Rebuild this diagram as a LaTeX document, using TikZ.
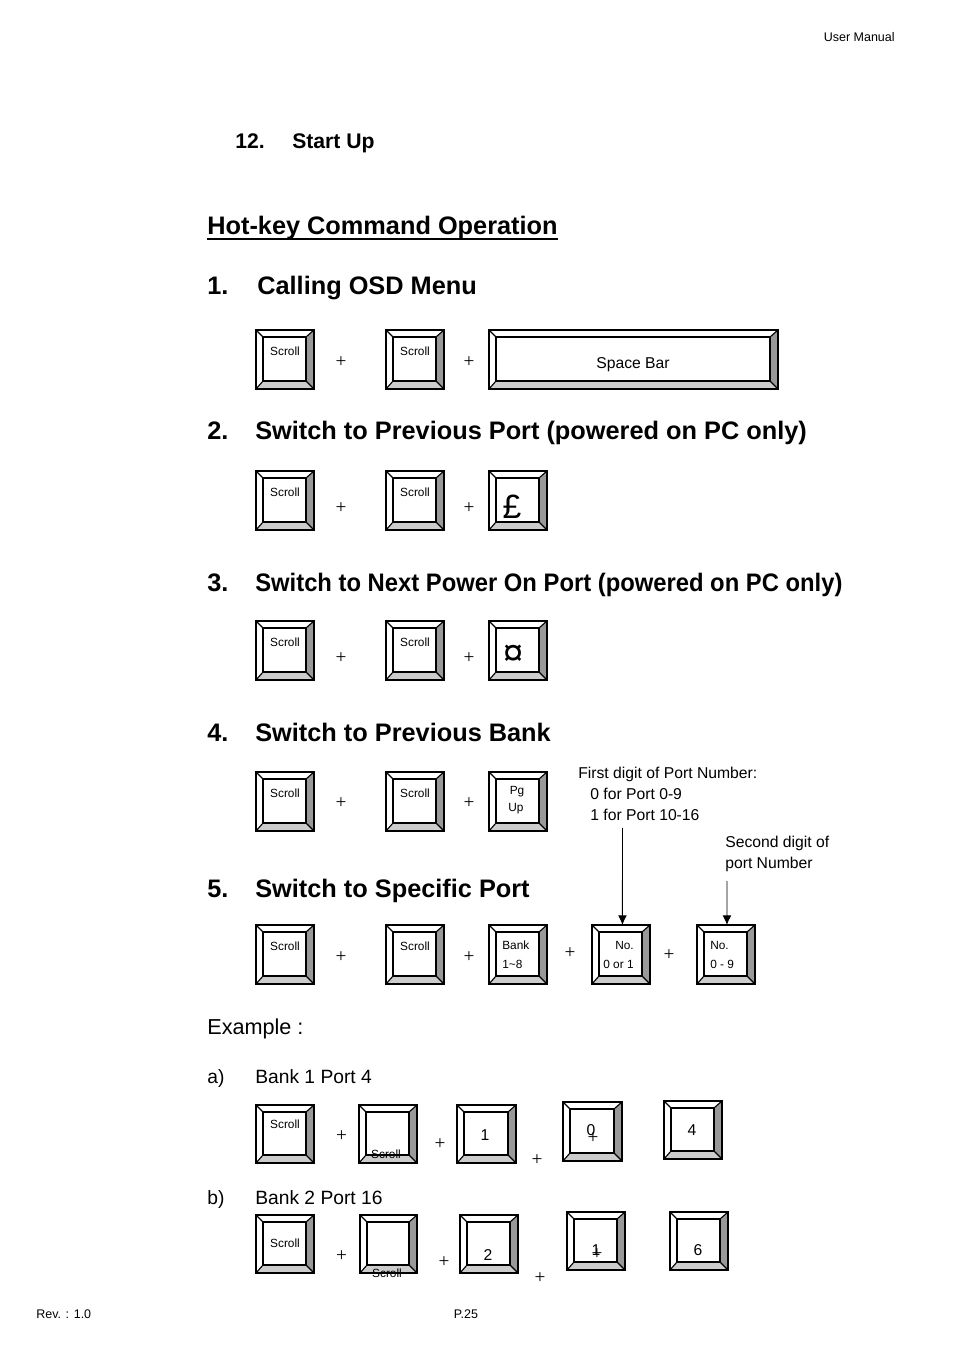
\documentclass[tikz,border=0pt]{standalone}
\usepackage{fontspec}
\usepackage{graphicx}
\setmainfont{Liberation Sans}
\newfontfamily\plusfont{Liberation Serif}
\usetikzlibrary{arrows.meta}

% key cap: name, left, top, right, bottom (page pixels, y downwards)
\newcommand{\keycap}[5]{%
  \fill[keyshade] ({#4},{#3}) -- ({#4},{#5}) -- ({#4-8},{#5-8}) -- ({#4-8},{#3+7}) -- cycle;
  \fill[keylight] ({#2},{#5}) -- ({#4},{#5}) -- ({#4-8},{#5-8}) -- ({#2+7},{#5-8}) -- cycle;
  \draw[keyline] ({#2},{#3}) rectangle ({#4},{#5});
  \draw[keyline] ({#2+7},{#3+7}) rectangle ({#4-8},{#5-8});
  \draw[keyline] ({#2},{#3}) -- ({#2+7},{#3+7}) ({#4},{#3}) -- ({#4-8},{#3+7})
                 ({#2},{#5}) -- ({#2+7},{#5-8}) ({#4},{#5}) -- ({#4-8},{#5-8});
  \coordinate (#1) at ({(#2+#4)/2},{#3});
}

\tikzset{
  keyshade/.style={fill=black!40},
  keylight/.style={fill=black!20},
  keyline/.style={line width=0.7pt},
  keytext/.style={font=\fontsize{7.4}{8}\selectfont, inner sep=0},
  digit/.style={font=\fontsize{9.8}{11}\selectfont, inner sep=0},
  plus/.style={font=\plusfont\fontsize{12}{12}\selectfont, inner sep=0},
  heading/.style={font=\bfseries\fontsize{15.8}{18}\selectfont, anchor=base west, inner sep=0},
  body/.style={font=\fontsize{12}{14}\selectfont, anchor=base west, inner sep=0},
  note/.style={font=\fontsize{9.8}{12}\selectfont, anchor=base west, inner sep=0},
  small/.style={font=\fontsize{7.8}{9}\selectfont, inner sep=0},
}

\begin{document}
\begin{tikzpicture}[x=0.624pt, y=-0.624pt, >={Latex[length=6pt,width=5.5pt]}]

  \fill[white] (0,0) rectangle (954,1351);
  \useasboundingbox (0,0) rectangle (954,1351);

  % page header and footer
  \node[small, anchor=base east] (hdr) at (895,41.5) {User Manual};
  \node[small, anchor=base west] (rev) at (36,1318.5) {Rev. : 1.0};
  \node[small, anchor=base] (page) at (466,1318.5) {P.25};

  % headings
  \node[heading, font=\bfseries\fontsize{13.2}{15}\selectfont] (secnum) at (235,148.5) {12.};
  \node[heading, font=\bfseries\fontsize{13.2}{15}\selectfont] (sec) at (292,148.5) {Start Up};
  \node[heading] (hot) at (207,235) {Hot-key Command Operation};
  \draw[line width=1.1pt] ([yshift=-2.6pt]hot.base west) -- ([yshift=-2.6pt]hot.base east);

  \node[heading] (n1) at (207,295) {1.};
  \node[heading] (h1) at (257,295) {Calling OSD Menu};
  \node[heading] (n2) at (207,439) {2.};
  \node[heading] (h2) at (255,439) {Switch to Previous Port (powered on PC only)};
  \node[heading] (n3) at (207,591) {3.};
  \node[heading] (h3) at (255,591) {\scalebox{0.94}[1]{Switch to Next Power On Port (powered on PC only)}};
  \node[heading] (n4) at (207,741) {4.};
  \node[heading] (h4) at (255,741) {Switch to Previous Bank};
  \node[heading] (n5) at (207,897) {5.};
  \node[heading] (h5) at (255,897) {Switch to Specific Port};

  % the two scroll keys of every hot-key
  \foreach \t/\p in {330/362, 471/508, 621/658, 772/803, 925/957} {
    \keycap{sa\t}{256}{\t}{314}{\t+59}
    \keycap{sb\t}{386}{\t}{444}{\t+59}
    \node[keytext] (sla\t) at (285,\t+21) {Scroll};
    \node[keytext] (slb\t) at (415,\t+21) {Scroll};
    \node[plus] (pa\t) at (341,\p) {+};
    \node[plus] (pb\t) at (469,\p) {+};
  }

  % third keys
  \keycap{space}{489}{330}{778}{389}
  \node[digit] (spacet) at (633,365) {Space Bar};
  \keycap{pound}{489}{471}{547}{530}
  \node[font=\fontsize{21}{21}\selectfont, inner sep=0] (poundt) at (512,506.5) {£};
  \keycap{curr}{489}{621}{547}{680}
  \node[font=\fontsize{23}{23}\selectfont, inner sep=0] (currt) at (513,655) {¤};
  \keycap{pgup}{489}{772}{547}{831}
  \node[keytext] (pg) at (517,792) {Pg};
  \node[keytext] (up) at (516,809) {Up};

  % specific port
  \keycap{bank}{489}{925}{547}{984}
  \node[keytext, anchor=west] (bankt) at (502,945) {Bank};
  \node[keytext, anchor=west] (bankn) at (502,964) {1\textasciitilde 8};
  \node[plus] (pc) at (570,953) {+};
  \keycap{noA}{592}{925}{650}{984}
  \node[keytext, anchor=west] (noAt) at (615,945) {No.};
  \node[keytext, anchor=west] (noAn) at (603,964) {0 or 1};
  \node[plus] (pd) at (669,955) {+};
  \keycap{noB}{697}{925}{755}{984}
  \node[keytext, anchor=west] (noBt) at (710,945) {No.};
  \node[keytext, anchor=west] (noBn) at (710,964) {0 - 9};

  % notes with arrows
  \node[note] (firstA) at (578,778.5) {First digit of Port Number:};
  \node[note] (firstB) at (590,799.5) {0 for Port 0-9};
  \node[note] (firstC) at (590,820.5) {1 for Port 10-16};
  \node[note] (secA) at (725,847.5) {Second digit of};
  \node[note] (secB) at (725,868.5) {port Number};
  \draw[line width=0.6pt, ->] (noA |- firstC.south) ++(1.5,7) -- ([xshift=0.9pt]noA);
  \draw[line width=0.6pt, ->] (noB |- secB.south) ++(1,9) -- ([xshift=0.6pt]noB);

  % examples
  \node[body, font=\fontsize{13.5}{15}\selectfont] (ex) at (207,1034.5) {Example :};
  \node[body] (ea) at (207,1083) {a)};
  \node[body] (eat) at (255,1083) {Bank 1 Port 4};
  \node[body] (eb) at (207,1204) {b)};
  \node[body] (ebt) at (255,1204) {Bank 2 Port 16};

  % example a
  \keycap{xa1}{256}{1105}{314}{1163}
  \node[keytext] (xa1t) at (285,1124) {Scroll};
  \node[plus] (xp1) at (341.5,1136.5) {+};
  \keycap{xa2}{359}{1105}{417}{1163}
  \node[keytext] (xa2t) at (386,1154) {Scroll};
  \node[plus] (xp2) at (440,1144) {+};
  \keycap{xa3}{457}{1105}{516}{1163}
  \node[digit] (xa3t) at (485,1135) {1};
  \node[plus] (xp3) at (537,1160.5) {+};
  \keycap{xa4}{563}{1102}{622}{1161}
  \node[digit] (xa4t) at (591,1130) {0};
  \node[plus] (xp4) at (593,1138) {+};
  \keycap{xa5}{664}{1101}{722}{1159}
  \draw[line width=1.3pt] (671,1108) rectangle (714,1151);
  \node[digit] (xa5t) at (692,1130) {4};

  % example b
  \keycap{xb1}{256}{1215}{314}{1273}
  \node[keytext] (xb1t) at (285,1243) {Scroll};
  \node[plus] (xq1) at (341.5,1256) {+};
  \keycap{xb2}{360}{1215}{417}{1273}
  \node[keytext] (xb2t) at (387,1273) {Scroll};
  \node[plus] (xq2) at (444,1262) {+};
  \keycap{xb3}{460}{1215}{518}{1273}
  \node[digit] (xb3t) at (488,1255) {2};
  \node[plus] (xq3) at (540,1278) {+};
  \keycap{xb4}{567}{1212}{625}{1270}
  \node[digit] (xb4t) at (596,1250) {1};
  \node[plus] (xq4) at (597,1254) {+};
  \keycap{xb5}{670}{1212}{728}{1270}
  \node[digit] (xb5t) at (698,1250) {6};

\end{tikzpicture}
\end{document}
